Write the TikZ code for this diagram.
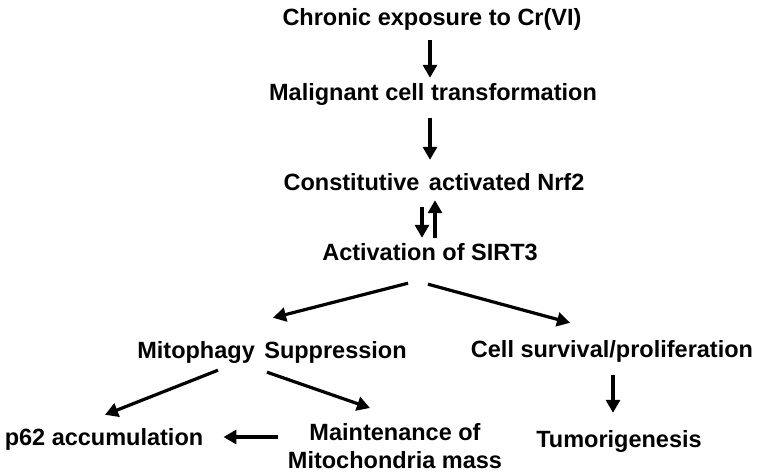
\documentclass[tikz,border=0pt]{standalone}
\usepackage{fontspec}
\setmainfont{Liberation Sans}
\usetikzlibrary{arrows.meta,calc}
\begin{document}
\begin{tikzpicture}[x=1pt,y=-1pt,
  lbl/.style={font=\fontsize{23.5}{29}\selectfont\bfseries, inner sep=0pt, text height=17pt, text depth=5pt, anchor=base},
  arr/.style={line width=3.2pt, -{Triangle[length=13pt,width=14pt]}}]
\useasboundingbox[fill=white] (0,0) rectangle (760,474);
\node[lbl] (chronic) at (432,25) {Chronic exposure to Cr(VI)};
\node[lbl] (malig) at (433,100) {Malignant cell transformation};
\node[lbl] (const) at (434,190) {Constitutive\hspace{3pt} activated Nrf2};
\node[lbl] (act) at (430,260) {Activation of SIRT3};
\node[lbl] (mito) at (272,358) {Mitophagy\hspace{3pt} Suppression};
\node[lbl] (cell) at (612,357) {Cell survival/proliferation};
\node[lbl] (tumor) at (619,447) {Tumorigenesis};
\node[lbl] (p62) at (104,445) {p62 accumulation};
\node[font=\fontsize{23.5}{28}\selectfont\bfseries, inner sep=0pt, align=center, anchor=north] (maint) at (395,423) {Maintenance of\\Mitochondria mass};

\draw[arr] ([xshift=-2pt,yshift=-10pt]chronic.south) -- ([xshift=-3pt,yshift=5pt]malig.north);
\draw[arr] ([xshift=-3pt,yshift=-13pt]malig.south) -- ([xshift=-4pt,yshift=13pt]const.north);
\draw[arr] ([xshift=-12pt,yshift=-12pt]const.south) -- ([xshift=-8pt,yshift=5pt]act.north);
\draw[arr] ([xshift=5pt,yshift=5pt]act.north) -- ([xshift=1pt,yshift=-5pt]const.south);
\draw[arr] ([xshift=-22pt,yshift=-18pt]act.south) -- ([xshift=1pt,yshift=23pt]mito.north);
\draw[arr] ([xshift=-2pt,yshift=-19pt]act.south) -- ([xshift=-42pt,yshift=17pt]cell.north);
\draw[arr] ([xshift=1pt,yshift=-13pt]cell.south) -- ([xshift=-6pt,yshift=17pt]tumor.north);
\draw[arr] ([xshift=-54pt,yshift=-7pt]mito.south) -- ([xshift=1pt,yshift=13pt]p62.north);
\draw[arr] ([xshift=-5pt,yshift=-9pt]mito.south) -- ([xshift=-25pt,yshift=15pt]maint.north);
\draw[arr, shorten <=10pt, shorten >=20pt] ($(maint.west |- p62.east)+(0,-2)$) -- ($(p62.east)+(0,-2)$);
\end{tikzpicture}
\end{document}
